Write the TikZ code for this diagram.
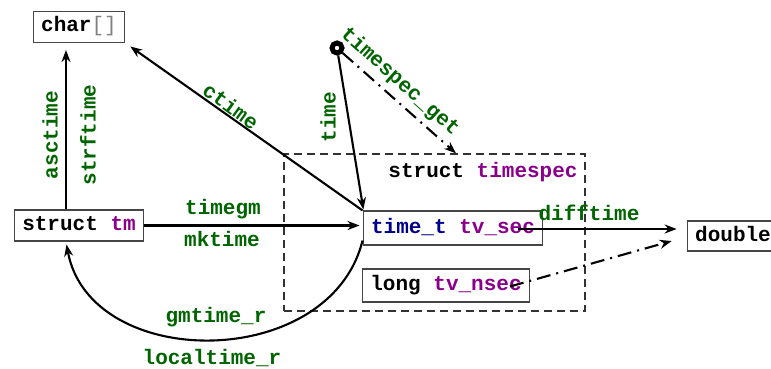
\documentclass[tikz,border=0pt]{standalone}
\usepackage{fontspec}
\setmonofont{Liberation Mono}
\usetikzlibrary{arrows.meta,calc}
\definecolor{fgreen}{RGB}{0,100,0}
\definecolor{fpurple}{RGB}{139,0,139}
\definecolor{fblue}{RGB}{0,0,139}
\definecolor{boxgray}{RGB}{70,70,70}
\definecolor{dashgray}{RGB}{50,50,50}
\begin{document}
\begin{tikzpicture}[x=1pt,y=-1pt,
  every node/.style={font=\fontsize{21}{24}\selectfont\ttfamily\bfseries},
  tbox/.style={draw=boxgray,line width=1.1pt,inner xsep=8pt,inner ysep=0pt,minimum height=31pt,text height=14pt,text depth=4pt},
  lab/.style={text=fgreen,inner sep=0pt},
  arr/.style={line width=2.1pt,-{Stealth[length=12pt,width=9pt]},shorten >=3pt},
  dd/.style={arr,dash pattern=on 14pt off 6pt on 2pt off 6pt}]
\clip (0,0) rectangle (771,369);
% dashed group
\node[draw=dashgray,line width=1.3pt,dash pattern=on 8pt off 5pt,minimum width=301pt,minimum height=157pt,inner sep=0pt] (grp) at (434.5,232.5) {};
\node[inner sep=0pt] (grpl) at (483,172) {struct \textcolor{fpurple}{timespec}};
% boxes
\node[tbox] (ch) at (79,27) {char\textmd{\color{gray}[]}};
\node[tbox] (tm) at (79,225.5) {struct \textcolor{fpurple}{tm}};
\node[tbox,minimum height=34pt] (ts) at (453,228) {\textcolor{fblue}{time\_t} \textcolor{fpurple}{tv\_sec}};
\node[tbox,minimum height=33pt] (ns) at (446,285.5) {long \textcolor{fpurple}{tv\_nsec}};
\node[tbox,minimum height=30pt] (dbl) at (733,236) {double};
% dot
\node[circle,draw=black,line width=5pt,fill=white,minimum size=10pt,inner sep=0pt] (dot) at (337,48) {};
% connectors
\draw[arr] ([xshift=-13pt]tm.north) -- ([xshift=-13pt,yshift=-4pt]ch.south);
\draw[arr,shorten >=6pt] (ts.north west) -- (ch.south east);
\draw[arr] (tm.east) -- (ts.west |- tm.east);
\draw[arr,shorten >=1pt] (dot) -- ($(ts.north west)+(1,0)$);
\draw[dd,shorten >=0pt] (dot) -- ($(grp.north)+(21.5,0)$);
\draw[arr] ($(ts.south west)+(0,-5)$) .. controls (330,372) and (90,372) .. ([xshift=-13pt]tm.south);
\coordinate (dfs) at ($(ts.center)+(65,1)$);
\draw[arr,shorten >=10pt] (dfs) -- ($(dbl.west)+(0,-7)$);
\coordinate (nss) at ($(ns.center)+(64,1)$);
\draw[dd,shorten >=0pt] (nss) -- ($(dbl.west)+(-15,5)$);
% labels
\node[lab,rotate=90] (l1) at (50,135) {asctime};
\node[lab,rotate=90] (l2) at (88,135) {strftime};
\node[lab,rotate=-36] (l3) at (231,106) {ctime};
\node[lab,rotate=90] (l4) at (328,117) {time};
\node[lab,rotate=-41.7] (l5) at (400,82) {timespec\_get};
\node[lab] (l6) at (223,209) {timegm};
\node[lab] (l7) at (222,239) {mktime};
\node[lab] (l8) at (216,317) {gmtime\_r};
\node[lab] (l9) at (212,358) {localtime\_r};
\node[lab] (l10) at (589,213) {difftime};
\end{tikzpicture}
\end{document}
